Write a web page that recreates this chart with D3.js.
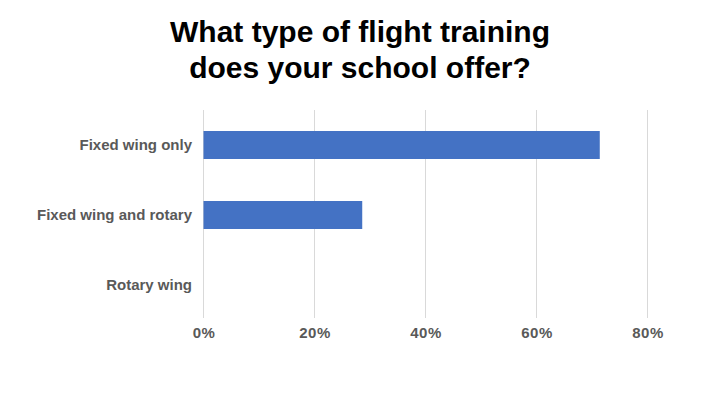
<!DOCTYPE html>
<html><head><meta charset="utf-8">
<script src="https://cdn.jsdelivr.net/npm/d3@7"></script>
<style>body{margin:0;background:#fff;}svg{display:block;}</style>
</head><body>
<svg id="c" width="720" height="405"></svg>
<script>
const categories = ["Fixed wing only", "Fixed wing and rotary", "Rotary wing"];
const values = [71.4, 28.6, 0];
const tickValues = [0, 20, 40, 60, 80];
const titleLines = ["What type of flight training", "does your school offer?"];

const svg = d3.select("#c");
const x = d3.scaleLinear().domain([0, 80]).range([203.5, 647.5]);
const y = d3.scaleBand().domain(categories).range([110, 320]).paddingInner(0.6).paddingOuter(0.3);

svg.append("g").selectAll("text").data(titleLines).join("text")
  .attr("x", 360).attr("y", (d, i) => 42 + i * 36)
  .attr("text-anchor", "middle")
  .style("font-family", "Liberation Sans, Arial, sans-serif")
  .style("font-weight", "bold").style("font-size", "30px").style("fill", "#000")
  .text(d => d);

svg.append("g").selectAll("line").data(tickValues).join("line")
  .attr("x1", d => x(d)).attr("x2", d => x(d))
  .attr("y1", 110).attr("y2", 318)
  .attr("stroke", "#d9d9d9").attr("stroke-width", 1);

svg.append("g").selectAll("rect").data(values).join("rect")
  .attr("x", x(0)).attr("y", (d, i) => y(categories[i]))
  .attr("width", d => x(d) - x(0)).attr("height", y.bandwidth())
  .attr("fill", "#4472c4");

const xa = svg.append("g").attr("transform", "translate(0,318)")
  .call(d3.axisBottom(x).tickValues(tickValues).tickFormat(d => d + "%").tickSize(0).tickPadding(9));
xa.select(".domain").remove();
xa.selectAll("text").style("font-family", "Liberation Sans, Arial, sans-serif")
  .style("font-weight", "bold").style("font-size", "15px").style("fill", "#595959")
  .style("letter-spacing", "0.5px");

const ya = svg.append("g").attr("transform", "translate(192,0)")
  .call(d3.axisLeft(y).tickSize(0).tickPadding(0));
ya.select(".domain").remove();
ya.selectAll("text").style("font-family", "Liberation Sans, Arial, sans-serif")
  .style("font-weight", "bold").style("font-size", "15px").style("fill", "#595959");
</script>
</body></html>
